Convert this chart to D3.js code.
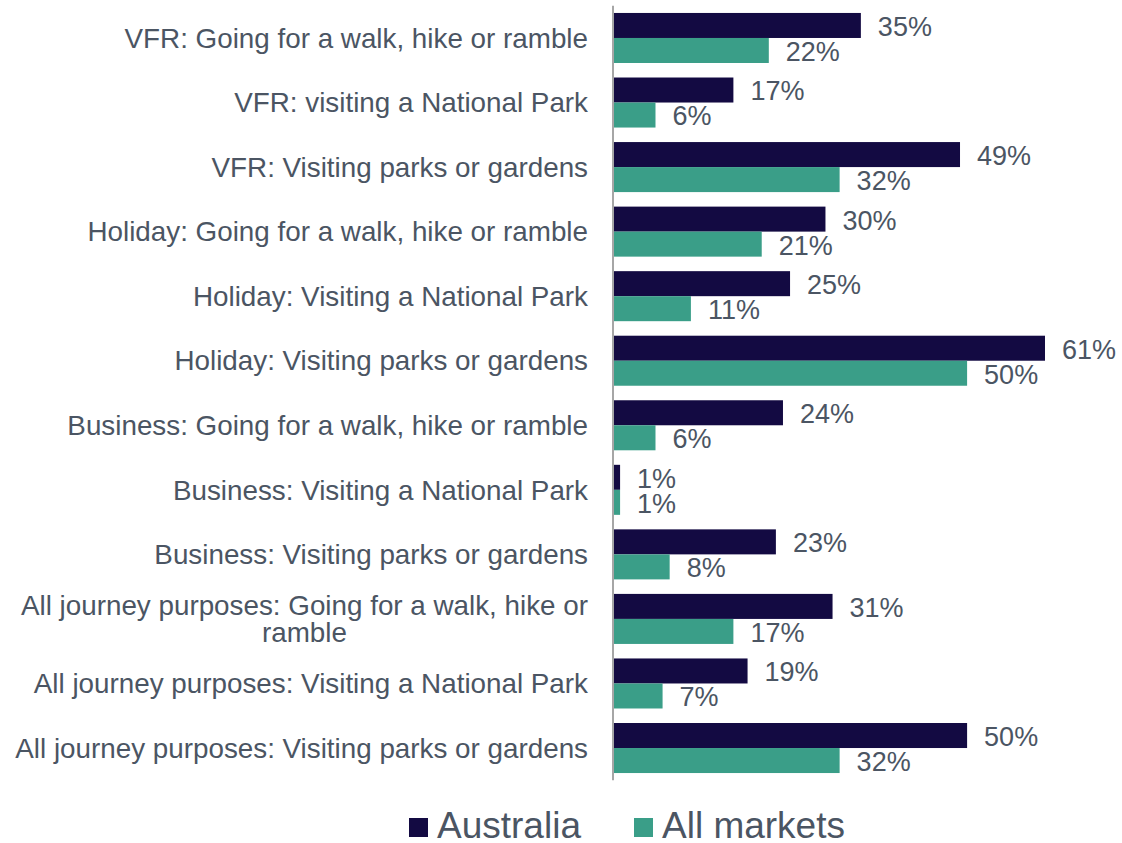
<!DOCTYPE html>
<html>
<head>
  <meta charset="utf-8" />
  <script src="https://d3js.org/d3.v7.min.js"></script>
  <style>
    body { margin: 0; background: #fff; }
    text { font-family: "Liberation Sans", Arial, sans-serif; fill: #4b5563; }
  </style>
</head>
<body>
  <div id="chart"></div>
  <script>
    const categories = [
      "VFR: Going for a walk, hike or ramble",
      "VFR: visiting a National Park",
      "VFR: Visiting parks or gardens",
      "Holiday: Going for a walk, hike or ramble",
      "Holiday: Visiting a National Park",
      "Holiday: Visiting parks or gardens",
      "Business: Going for a walk, hike or ramble",
      "Business: Visiting a National Park",
      "Business: Visiting parks or gardens",
      "All journey purposes: Going for a walk, hike or ramble",
      "All journey purposes: Visiting a National Park",
      "All journey purposes: Visiting parks or gardens"
    ];
    const seriesNames = ["Australia", "All markets"];
    const australia = [35, 17, 49, 30, 25, 61, 24, 1, 23, 31, 19, 50];
    const allMarkets = [22, 6, 32, 21, 11, 50, 6, 1, 8, 17, 7, 32];
    const colors = ["#130a42", "#3a9e88"];

    const width = 1122, height = 843;
    const svg = d3.select("#chart").append("svg")
      .attr("width", width).attr("height", height);

    const x = d3.scaleLinear().domain([0, 61]).range([613, 1045]);
    const y = d3.scaleBand().domain(categories).range([5.7, 780.3])
      .paddingInner(0.225).paddingOuter(0.1125);
    const ySub = d3.scaleBand().domain(seriesNames).range([0, y.bandwidth()]);

    const rows = categories.map((c, i) => ({ cat: c, values: [australia[i], allMarkets[i]] }));

    const groups = svg.append("g").selectAll("g")
      .data(rows).join("g")
      .attr("transform", d => `translate(0,${y(d.cat)})`);

    groups.selectAll("rect")
      .data(d => d.values.map((v, j) => ({ v, s: seriesNames[j], j })))
      .join("rect")
      .attr("x", x(0))
      .attr("y", d => ySub(d.s))
      .attr("width", d => x(d.v) - x(0))
      .attr("height", ySub.bandwidth())
      .attr("fill", d => colors[d.j]);

    groups.selectAll("text.val")
      .data(d => d.values.map((v, j) => ({ v, s: seriesNames[j] })))
      .join("text")
      .attr("class", "val")
      .attr("x", d => x(d.v) + 17)
      .attr("y", d => ySub(d.s) + ySub.bandwidth() / 2 + 1)
      .attr("dy", "0.35em")
      .style("font-size", "27px")
      .text(d => d.v + "%");

    // axis line
    svg.append("line")
      .attr("x1", x(0)).attr("x2", x(0))
      .attr("y1", y.range()[0]).attr("y2", y.range()[1])
      .attr("stroke", "#a6a6a6").attr("stroke-width", 2);

    // category labels, wrapped
    const labelRight = x(0) - 25;
    const maxW = 585;
    svg.append("g").selectAll("text")
      .data(categories).join("text")
      .style("font-size", "27.8px")
      .each(function (c) {
        const t = d3.select(this);
        const words = c.split(" ");
        const lines = [];
        let line = [];
        const probe = t.append("tspan");
        words.forEach(w => {
          line.push(w);
          probe.text(line.join(" "));
          if (probe.node().getComputedTextLength() > maxW && line.length > 1) {
            line.pop();
            lines.push(line.join(" "));
            line = [w];
          }
        });
        lines.push(line.join(" "));
        probe.remove();
        const cy = y(c) + y.bandwidth() / 2;
        const lh = 27;
        if (lines.length === 1) {
          t.attr("text-anchor", "end")
            .append("tspan").attr("x", labelRight).attr("y", cy).attr("dy", "0.35em").text(lines[0]);
        } else {
          t.attr("text-anchor", "middle");
          const tmp = t.append("tspan").text(lines[0]);
          const w0 = tmp.node().getComputedTextLength();
          tmp.remove();
          const mid = labelRight - w0 / 2;
          lines.forEach((l, k) => {
            t.append("tspan").attr("x", mid)
              .attr("y", cy + (k - (lines.length - 1) / 2) * lh)
              .attr("dy", "0.35em").text(l);
          });
        }
      });

    // legend
    const legend = svg.append("g");
    const legendX = [409, 634];
    seriesNames.forEach((s, i) => {
      legend.append("rect").attr("x", legendX[i]).attr("y", 818)
        .attr("width", 19).attr("height", 19).attr("fill", colors[i]);
      legend.append("text").attr("x", legendX[i] + 28).attr("y", 838)
        .style("font-size", "37px").text(s);
    });
  </script>
</body>
</html>
